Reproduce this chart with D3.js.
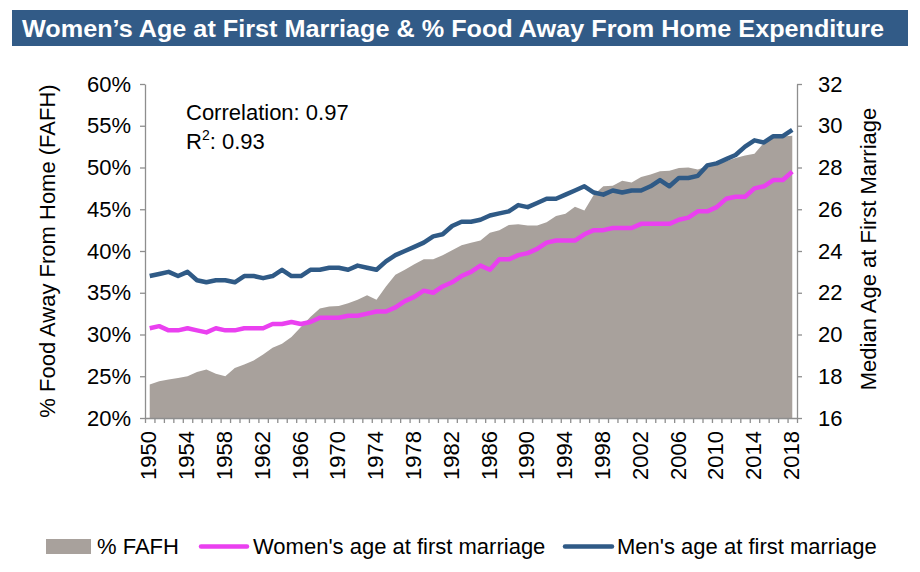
<!DOCTYPE html>
<html><head><meta charset="utf-8">
<script src="https://cdn.jsdelivr.net/npm/d3@7"></script>
<style>body{margin:0;background:#fff}svg{display:block;font-family:"Liberation Sans",Arial,sans-serif}</style>
</head><body><svg id="c" width="920" height="572"></svg>
<script>
const years = d3.range(1950, 2019);
const fafh = [24.0,24.4,24.6,24.8,25.0,25.5,25.8,25.3,25.0,26.0,
  26.4,26.9,27.6,28.4,28.9,29.7,30.9,32.1,33.1,33.35,
  33.4,33.75,34.15,34.7,34.15,35.75,37.15,37.75,38.4,39.0,
  39.0,39.5,40.1,40.7,41.0,41.25,42.2,42.5,43.1,43.2,
  43.05,43.05,43.45,44.2,44.45,45.3,44.85,46.75,47.75,47.8,
  48.4,48.2,48.85,49.15,49.55,49.6,49.95,50.0,49.75,50.15,
  50.45,50.75,51.15,51.45,51.65,52.95,53.55,53.7,53.8];
const women = [20.3,20.4,20.2,20.2,20.3,20.2,20.1,20.3,20.2,20.2,
  20.3,20.3,20.3,20.5,20.5,20.6,20.5,20.6,20.8,20.8,
  20.8,20.9,20.9,21.0,21.1,21.1,21.3,21.6,21.8,22.1,
  22.0,22.3,22.5,22.8,23.0,23.3,23.1,23.6,23.6,23.8,
  23.9,24.1,24.4,24.5,24.5,24.5,24.8,25.0,25.0,25.1,
  25.1,25.1,25.3,25.3,25.3,25.3,25.5,25.6,25.9,25.9,
  26.1,26.5,26.6,26.6,27.0,27.1,27.4,27.4,27.8];
const men = [22.8,22.9,23.0,22.8,23.0,22.6,22.5,22.6,22.6,22.5,
  22.8,22.8,22.7,22.8,23.1,22.8,22.8,23.1,23.1,23.2,
  23.2,23.1,23.3,23.2,23.1,23.5,23.8,24.0,24.2,24.4,
  24.7,24.8,25.2,25.4,25.4,25.5,25.7,25.8,25.9,26.2,
  26.1,26.3,26.5,26.5,26.7,26.9,27.1,26.8,26.7,26.9,
  26.8,26.9,26.9,27.1,27.4,27.1,27.5,27.5,27.6,28.1,
  28.2,28.4,28.6,29.0,29.3,29.2,29.5,29.5,29.8];
const leftTicks = [20,25,30,35,40,45,50,55,60];
const rightTicks = [16,18,20,22,24,26,28,30,32];
const yearLabels = d3.range(1950, 2019, 4);
const titleText = "Women\u2019s Age at First Marriage & % Food Away From Home Expenditure";
const seriesNames = ["% FAFH", "Women's age at first marriage", "Men's age at first marriage"];

const C = {title:"#325B87", area:"#A8A19C", women:"#EA40F0", men:"#2F5A86", axis:"#8E8E8E"};
const L = 145, R = 797, T = 84, B = 418;
const svg = d3.select("#c");

// title bar
svg.append("rect").attr("x",12).attr("y",10).attr("width",896).attr("height",36).attr("fill",C.title);
svg.append("text").attr("x",22).attr("y",37).attr("fill","#fff").attr("font-weight","bold")
  .attr("font-size",24).attr("textLength",862).attr("lengthAdjust","spacingAndGlyphs").text(titleText);

const x = d3.scaleBand().domain(years).range([L,R]).padding(0);
const cx = d => x(d) + x.bandwidth()/2;
const yL = d3.scaleLinear().domain([20,60]).range([B,T]);
const yR = d3.scaleLinear().domain([16,32]).range([B,T]);

// area
const area = d3.area().x((d,i)=>cx(years[i])).y0(yL(20)).y1(d=>yL(d));
svg.append("path").datum(fafh).attr("d",area).attr("fill",C.area);

// lines
const line = d3.line().x((d,i)=>cx(years[i])).y(d=>yR(d));
svg.append("path").datum(women).attr("d",line).attr("fill","none").attr("stroke",C.women).attr("stroke-width",4.5).attr("stroke-linejoin","round");
svg.append("path").datum(men).attr("d",line).attr("fill","none").attr("stroke",C.men).attr("stroke-width",4.5).attr("stroke-linejoin","round");

// axes
const styleAxis = g => {
  g.select(".domain").attr("stroke",C.axis).attr("stroke-width",1.3);
  g.selectAll(".tick line").attr("stroke",C.axis).attr("stroke-width",1.3);
  g.selectAll(".tick text").attr("fill","#000").attr("font-size",22).attr("font-family","Liberation Sans, Arial, sans-serif");
};
const gL = svg.append("g").attr("transform",`translate(${L},0)`)
  .call(d3.axisLeft(yL).tickValues(leftTicks).tickFormat(d=>d+"%").tickSize(5).tickSizeOuter(0).tickPadding(9));
styleAxis(gL);
const gR = svg.append("g").attr("transform",`translate(${R},0)`)
  .call(d3.axisRight(yR).tickValues(rightTicks).tickFormat(d3.format("d")).tickSize(5).tickSizeOuter(0).tickPadding(16));
styleAxis(gR);

// x axis: ticks at category boundaries
const xb = d3.scaleLinear().domain([0, years.length]).range([L,R]);
const gX = svg.append("g").attr("transform",`translate(0,${B})`)
  .call(d3.axisBottom(xb).tickValues(d3.range(0, years.length+1)).tickFormat("").tickSize(5).tickSizeOuter(0));
styleAxis(gX);
svg.append("g").selectAll("text").data(yearLabels).join("text")
  .attr("transform",d=>`translate(${cx(d)-1},${431}) rotate(-90)`)
  .attr("text-anchor","end").attr("dy","0.35em").attr("font-size",22).attr("fill","#000").text(d=>d);

// axis titles
svg.append("text").attr("transform","translate(47,251) rotate(-90)").attr("text-anchor","middle")
  .attr("dy","0.35em").attr("font-size",22).text("% Food Away From Home (FAFH)");
svg.append("text").attr("transform","translate(868,249) rotate(-90)").attr("text-anchor","middle")
  .attr("dy","0.35em").attr("font-size",22).text("Median Age at First Marriage");

// annotation
svg.append("text").attr("x",186).attr("y",120).attr("font-size",22).text("Correlation: 0.97");
const r2 = svg.append("text").attr("x",186).attr("y",149).attr("font-size",22);
r2.append("tspan").text("R");
r2.append("tspan").attr("font-size",14).attr("dy",-9).text("2");
r2.append("tspan").attr("dy",9).text(": 0.93");

// legend
const lg = svg.append("g");
lg.append("rect").attr("x",46).attr("y",539).attr("width",45).attr("height",15).attr("fill",C.area);
lg.append("text").attr("x",97).attr("y",554).attr("font-size",22).text(seriesNames[0]);
lg.append("line").attr("x1",201).attr("x2",247).attr("y1",546.5).attr("y2",546.5).attr("stroke",C.women).attr("stroke-width",4.5).attr("stroke-linecap","round");
lg.append("text").attr("x",253).attr("y",554).attr("font-size",22).text(seriesNames[1]);
lg.append("line").attr("x1",565).attr("x2",612).attr("y1",546.5).attr("y2",546.5).attr("stroke",C.men).attr("stroke-width",4.5).attr("stroke-linecap","round");
lg.append("text").attr("x",617).attr("y",554).attr("font-size",22).text(seriesNames[2]);
</script></body></html>
